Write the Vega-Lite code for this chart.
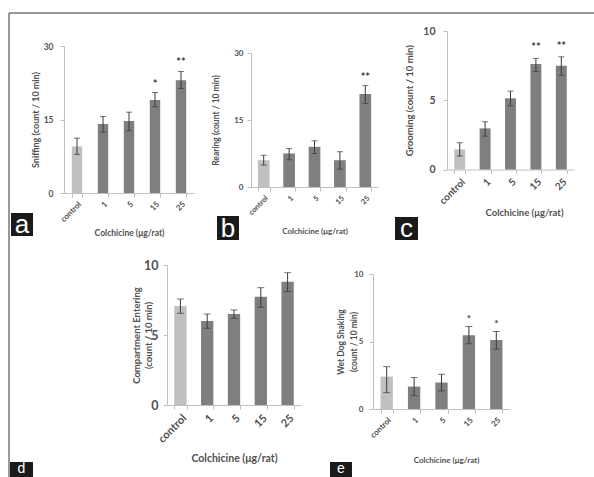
{
  "$schema": "https://vega.github.io/schema/vega-lite/v6.json",
  "width": 594,
  "height": 477,
  "autosize": {"type": "none"},
  "padding": 0,
  "background": "white",
  "datasets": {
    "bars": [
      {"panel": "a", "group": "control", "mean": 9.5, "lo": 7.9, "hi": 11.2, "star": ""},
      {"panel": "a", "group": "1", "mean": 14.1, "lo": 12.4, "hi": 15.6, "star": ""},
      {"panel": "a", "group": "5", "mean": 14.7, "lo": 12.7, "hi": 16.5, "star": ""},
      {"panel": "a", "group": "15", "mean": 19.0, "lo": 17.6, "hi": 20.5, "star": "*"},
      {"panel": "a", "group": "25", "mean": 23.0, "lo": 21.3, "hi": 24.8, "star": "**"},
      {"panel": "b", "group": "control", "mean": 6.0, "lo": 4.9, "hi": 7.1, "star": ""},
      {"panel": "b", "group": "1", "mean": 7.5, "lo": 6.1, "hi": 8.6, "star": ""},
      {"panel": "b", "group": "5", "mean": 9.0, "lo": 7.5, "hi": 10.35, "star": ""},
      {"panel": "b", "group": "15", "mean": 6.0, "lo": 4.0, "hi": 7.9, "star": ""},
      {"panel": "b", "group": "25", "mean": 20.8, "lo": 18.7, "hi": 22.7, "star": "**"},
      {"panel": "c", "group": "control", "mean": 1.45, "lo": 0.97, "hi": 1.93, "star": ""},
      {"panel": "c", "group": "1", "mean": 2.97, "lo": 2.4, "hi": 3.45, "star": ""},
      {"panel": "c", "group": "5", "mean": 5.14, "lo": 4.6, "hi": 5.66, "star": ""},
      {"panel": "c", "group": "15", "mean": 7.62, "lo": 7.08, "hi": 8.02, "star": "**"},
      {"panel": "c", "group": "25", "mean": 7.5, "lo": 6.8, "hi": 8.14, "star": "**"},
      {"panel": "d", "group": "control", "mean": 7.07, "lo": 6.55, "hi": 7.57, "star": ""},
      {"panel": "d", "group": "1", "mean": 6.0, "lo": 5.48, "hi": 6.5, "star": ""},
      {"panel": "d", "group": "5", "mean": 6.5, "lo": 6.19, "hi": 6.79, "star": ""},
      {"panel": "d", "group": "15", "mean": 7.74, "lo": 6.98, "hi": 8.38, "star": ""},
      {"panel": "d", "group": "25", "mean": 8.81, "lo": 8.1, "hi": 9.45, "star": ""},
      {"panel": "e", "group": "control", "mean": 2.4, "lo": 1.21, "hi": 3.14, "star": ""},
      {"panel": "e", "group": "1", "mean": 1.66, "lo": 0.99, "hi": 2.33, "star": ""},
      {"panel": "e", "group": "5", "mean": 1.96, "lo": 1.34, "hi": 2.57, "star": ""},
      {"panel": "e", "group": "15", "mean": 5.47, "lo": 4.83, "hi": 6.11, "star": "*"},
      {"panel": "e", "group": "25", "mean": 5.12, "lo": 4.43, "hi": 5.74, "star": "*"}
    ]
  },
  "config": {
    "view": {"stroke": null},
    "font": "Lato",
    "axis": {
      "grid": false,
      "domainColor": "#c0c0c0",
      "tickColor": "#c0c0c0",
      "labelColor": "#505050",
      "titleColor": "#505050",
      "labelFont": "Lato",
      "titleFont": "Lato",
      "labelFontWeight": "bold",
      "titleFontWeight": "bold",
      "tickSize": 4
    },
    "axisX": {"tickBand": "extent", "labelAngle": -45, "labelAlign": "right", "labelBaseline": "top"},
    "axisY": {"titleBaseline": "middle"}
  },
  "resolve": {
    "scale": {"x": "independent", "y": "independent"},
    "axis": {"x": "independent", "y": "independent"}
  },
  "layer": [
    {
      "data": {"name": "bars"},
      "transform": [{"filter": "datum.panel == 'a'"}],
      "encoding": {
        "x": {"field": "group", "type": "nominal", "sort": ["control", "1", "5", "15", "25"],
          "scale": {"range": [64, 194], "paddingInner": 0.6, "paddingOuter": 0.3},
          "axis": {"orient": "bottom", "offset": -284, "title": "Colchicine (μg/rat)", "labelFontSize": 8, "titleFontSize": 8.5, "titleY": 35, "labelPadding": 3}}
      },
      "layer": [
        {"mark": {"type": "bar"},
         "encoding": {
           "y": {"field": "mean", "type": "quantitative", "scale": {"domain": [0, 30], "range": [193, 46], "nice": false},
             "axis": {"orient": "left", "offset": -64, "title": "Sniffing (count / 10 min)", "values": [0, 15, 30], "labelFontSize": 8.5, "labelPadding": 7, "titleFontSize": 9, "titleX": -29}},
           "color": {"condition": {"test": "datum.group === 'control'", "value": "#c0c0c0"}, "value": "#7f7f7f"}}},
        {"mark": {"type": "rule", "color": "#3a3a3a"}, "encoding": {"y": {"field": "lo", "type": "quantitative"}, "y2": {"field": "hi"}}},
        {"mark": {"type": "tick", "color": "#3a3a3a", "size": 6, "thickness": 1}, "encoding": {"y": {"field": "lo", "type": "quantitative"}}},
        {"mark": {"type": "tick", "color": "#3a3a3a", "size": 6, "thickness": 1}, "encoding": {"y": {"field": "hi", "type": "quantitative"}}},
        {"transform": [{"filter": "datum.star != ''"}],
         "mark": {"type": "text", "font": "Lato", "fontWeight": "bold", "fontSize": 11, "color": "#404040", "dy": -5, "baseline": "alphabetic"},
         "encoding": {"y": {"field": "hi", "type": "quantitative"}, "text": {"field": "star"}}}
      ]
    },
    {
      "data": {"name": "bars"},
      "transform": [{"filter": "datum.panel == 'b'"}],
      "encoding": {
        "x": {"field": "group", "type": "nominal", "sort": ["control", "1", "5", "15", "25"],
          "scale": {"range": [251, 378], "paddingInner": 0.54, "paddingOuter": 0.27},
          "axis": {"orient": "bottom", "offset": -290, "title": "Colchicine (μg/rat)", "labelFontSize": 7.5, "titleFontSize": 8, "titleY": 40, "labelPadding": 3}}
      },
      "layer": [
        {"mark": {"type": "bar"},
         "encoding": {
           "y": {"field": "mean", "type": "quantitative", "scale": {"domain": [0, 30], "range": [187, 53], "nice": false},
             "axis": {"orient": "left", "offset": -251, "title": "Rearing (count / 10 min)", "values": [0, 15, 30], "labelFontSize": 8, "labelPadding": 4, "titleFontSize": 8.5, "titleX": -36}},
           "color": {"condition": {"test": "datum.group === 'control'", "value": "#c0c0c0"}, "value": "#7f7f7f"}}},
        {"mark": {"type": "rule", "color": "#3a3a3a"}, "encoding": {"y": {"field": "lo", "type": "quantitative"}, "y2": {"field": "hi"}}},
        {"mark": {"type": "tick", "color": "#3a3a3a", "size": 6, "thickness": 1}, "encoding": {"y": {"field": "lo", "type": "quantitative"}}},
        {"mark": {"type": "tick", "color": "#3a3a3a", "size": 6, "thickness": 1}, "encoding": {"y": {"field": "hi", "type": "quantitative"}}},
        {"transform": [{"filter": "datum.star != ''"}],
         "mark": {"type": "text", "font": "Lato", "fontWeight": "bold", "fontSize": 11, "color": "#404040", "dy": -5, "baseline": "alphabetic"},
         "encoding": {"y": {"field": "hi", "type": "quantitative"}, "text": {"field": "star"}}}
      ]
    },
    {
      "data": {"name": "bars"},
      "transform": [{"filter": "datum.panel == 'c'"}],
      "encoding": {
        "x": {"field": "group", "type": "nominal", "sort": ["control", "1", "5", "15", "25"],
          "scale": {"range": [447, 574], "paddingInner": 0.57, "paddingOuter": 0.285},
          "axis": {"orient": "bottom", "offset": -307.5, "title": "Colchicine (μg/rat)", "labelFontSize": 10, "titleFontSize": 9.5, "titleY": 38, "titleX": 524, "labelPadding": 3}}
      },
      "layer": [
        {"mark": {"type": "bar"},
         "encoding": {
           "y": {"field": "mean", "type": "quantitative", "scale": {"domain": [0, 10], "range": [169.5, 31], "nice": false},
             "axis": {"orient": "left", "offset": -447, "title": "Grooming (count / 10 min)", "values": [0, 5, 10], "labelFontSize": 10.5, "labelPadding": 8, "titleFontSize": 9.5, "titleX": -38}},
           "color": {"condition": {"test": "datum.group === 'control'", "value": "#c0c0c0"}, "value": "#7f7f7f"}}},
        {"mark": {"type": "rule", "color": "#3a3a3a"}, "encoding": {"y": {"field": "lo", "type": "quantitative"}, "y2": {"field": "hi"}}},
        {"mark": {"type": "tick", "color": "#3a3a3a", "size": 6, "thickness": 1}, "encoding": {"y": {"field": "lo", "type": "quantitative"}}},
        {"mark": {"type": "tick", "color": "#3a3a3a", "size": 6, "thickness": 1}, "encoding": {"y": {"field": "hi", "type": "quantitative"}}},
        {"transform": [{"filter": "datum.star != ''"}],
         "mark": {"type": "text", "font": "Lato", "fontWeight": "bold", "fontSize": 11, "color": "#404040", "dy": -7, "baseline": "alphabetic"},
         "encoding": {"y": {"field": "hi", "type": "quantitative"}, "text": {"field": "star"}}}
      ]
    },
    {
      "data": {"name": "bars"},
      "transform": [{"filter": "datum.panel == 'd'"}],
      "encoding": {
        "x": {"field": "group", "type": "nominal", "sort": ["control", "1", "5", "15", "25"],
          "scale": {"range": [167, 301], "paddingInner": 0.54, "paddingOuter": 0.27},
          "axis": {"orient": "bottom", "offset": -72, "title": "Colchicine (μg/rat)", "labelFontSize": 11, "titleFontSize": 10.5, "titleY": 48, "labelPadding": 3}}
      },
      "layer": [
        {"mark": {"type": "bar"},
         "encoding": {
           "y": {"field": "mean", "type": "quantitative", "scale": {"domain": [0, 10], "range": [405, 265], "nice": false},
             "axis": {"orient": "left", "offset": -167, "title": ["Compartment Entering", "(count / 10 min)"], "values": [0, 5, 10], "labelFontSize": 12.5, "labelPadding": 5, "titleFontSize": 9.5, "titleLineHeight": 12, "titleX": -31}},
           "color": {"condition": {"test": "datum.group === 'control'", "value": "#c0c0c0"}, "value": "#7f7f7f"}}},
        {"mark": {"type": "rule", "color": "#3a3a3a"}, "encoding": {"y": {"field": "lo", "type": "quantitative"}, "y2": {"field": "hi"}}},
        {"mark": {"type": "tick", "color": "#3a3a3a", "size": 7, "thickness": 1}, "encoding": {"y": {"field": "lo", "type": "quantitative"}}},
        {"mark": {"type": "tick", "color": "#3a3a3a", "size": 7, "thickness": 1}, "encoding": {"y": {"field": "hi", "type": "quantitative"}}}
      ]
    },
    {
      "data": {"name": "bars"},
      "transform": [{"filter": "datum.panel == 'e'"}],
      "encoding": {
        "x": {"field": "group", "type": "nominal", "sort": ["control", "1", "5", "15", "25"],
          "scale": {"range": [373, 510], "paddingInner": 0.55, "paddingOuter": 0.275},
          "axis": {"orient": "bottom", "offset": -68, "title": "Colchicine (μg/rat)", "labelFontSize": 8, "titleFontSize": 8, "titleY": 47, "titleX": 446, "labelPadding": 3}}
      },
      "layer": [
        {"mark": {"type": "bar"},
         "encoding": {
           "y": {"field": "mean", "type": "quantitative", "scale": {"domain": [0, 10], "range": [409, 274], "nice": false},
             "axis": {"orient": "left", "offset": -373, "title": ["Wet Dog Shaking", "(count / 10 min)"], "values": [0, 5, 10], "labelFontSize": 8, "labelPadding": 6, "titleFontSize": 8.5, "titleLineHeight": 13, "titleX": -33}},
           "color": {"condition": {"test": "datum.group === 'control'", "value": "#c0c0c0"}, "value": "#7f7f7f"}}},
        {"mark": {"type": "rule", "color": "#3a3a3a"}, "encoding": {"y": {"field": "lo", "type": "quantitative"}, "y2": {"field": "hi"}}},
        {"mark": {"type": "tick", "color": "#3a3a3a", "size": 7, "thickness": 1}, "encoding": {"y": {"field": "lo", "type": "quantitative"}}},
        {"mark": {"type": "tick", "color": "#3a3a3a", "size": 7, "thickness": 1}, "encoding": {"y": {"field": "hi", "type": "quantitative"}}},
        {"transform": [{"filter": "datum.star != ''"}],
         "mark": {"type": "text", "font": "Lato", "fontWeight": "bold", "fontSize": 10, "color": "#404040", "dy": -5, "baseline": "alphabetic"},
         "encoding": {"y": {"field": "hi", "type": "quantitative"}, "text": {"field": "star"}}}
      ]
    },
    {
      "data": {"values": [{"a": "a", "b": "b", "c": "c", "d": "d", "e": "e"}]},
      "layer": [
        {"mark": {"type": "rule", "color": "#777777", "strokeWidth": 1.5}, "encoding": {"x": {"value": 9}, "x2": {"value": 594}, "y": {"value": 13}}},
        {"mark": {"type": "rule", "color": "#777777", "strokeWidth": 1.5}, "encoding": {"x": {"value": 9}, "y": {"value": 13}, "y2": {"value": 477}}},
        {"mark": {"type": "rect", "color": "#1a1a1a"}, "encoding": {"x": {"value": 11}, "x2": {"value": 33}, "y": {"value": 213}, "y2": {"value": 236}}},
        {"mark": {"type": "rect", "color": "#1a1a1a"}, "encoding": {"x": {"value": 217}, "x2": {"value": 239}, "y": {"value": 216}, "y2": {"value": 240}}},
        {"mark": {"type": "rect", "color": "#1a1a1a"}, "encoding": {"x": {"value": 395}, "x2": {"value": 418}, "y": {"value": 217}, "y2": {"value": 240}}},
        {"mark": {"type": "rect", "color": "#1a1a1a"}, "encoding": {"x": {"value": 10}, "x2": {"value": 33}, "y": {"value": 462}, "y2": {"value": 477}}},
        {"mark": {"type": "rect", "color": "#1a1a1a"}, "encoding": {"x": {"value": 330}, "x2": {"value": 352}, "y": {"value": 462}, "y2": {"value": 477}}},
        {"mark": {"type": "text", "font": "Liberation Sans", "fontSize": 26, "color": "white", "baseline": "alphabetic", "align": "center"},
         "encoding": {"x": {"value": 22}, "y": {"value": 233}, "text": {"field": "a"}}},
        {"mark": {"type": "text", "font": "Liberation Sans", "fontSize": 26, "color": "white", "baseline": "alphabetic", "align": "center"},
         "encoding": {"x": {"value": 228}, "y": {"value": 237}, "text": {"field": "b"}}},
        {"mark": {"type": "text", "font": "Liberation Sans", "fontSize": 26, "color": "white", "baseline": "alphabetic", "align": "center"},
         "encoding": {"x": {"value": 406.5}, "y": {"value": 237}, "text": {"field": "c"}}},
        {"mark": {"type": "text", "font": "Liberation Sans", "fontSize": 14, "color": "white", "baseline": "alphabetic", "align": "center"},
         "encoding": {"x": {"value": 21.5}, "y": {"value": 473}, "text": {"field": "d"}}},
        {"mark": {"type": "text", "font": "Liberation Sans", "fontSize": 14, "color": "white", "baseline": "alphabetic", "align": "center"},
         "encoding": {"x": {"value": 341}, "y": {"value": 473}, "text": {"field": "e"}}}
      ]
    }
  ]
}
